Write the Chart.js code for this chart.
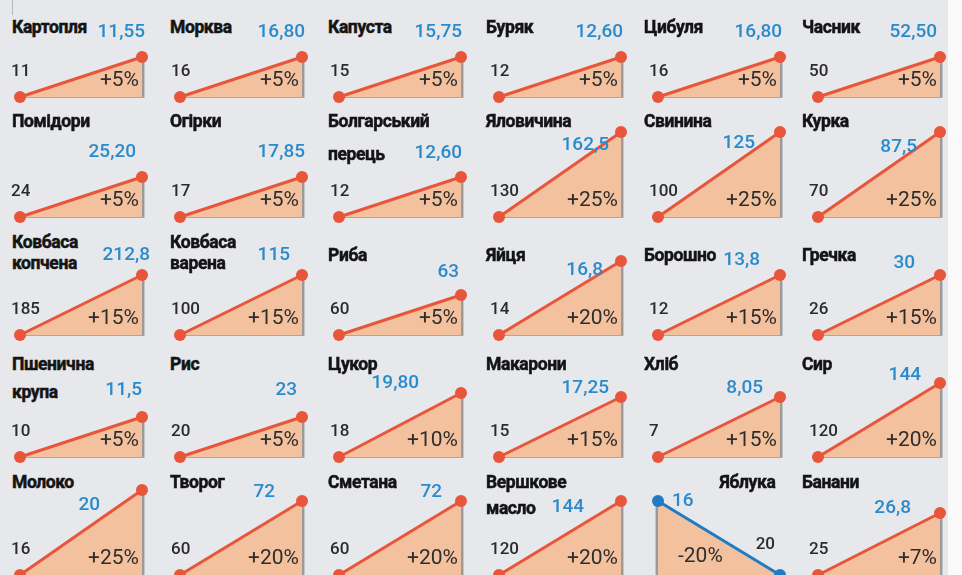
<!DOCTYPE html>
<html lang="uk">
<head>
  <meta charset="UTF-8" />
  <title>Ціни на продукти</title>
  <style>
    body {
      margin: 0;
      width: 962px;
      height: 575px;
      overflow: hidden;
      background: #fafafa;
      font-family: Roboto, 'Noto Sans', sans-serif;
    }
    #board {
      position: absolute;
      left: 0; top: 0;
      width: 948px; height: 575px;
      background: #e6e8eb;
      overflow: hidden;
    }
    #board canvas { position: absolute; }
    .name {
      position: absolute;
      font-weight: 700;
      font-size: 17.5px;
      color: #141414;
      white-space: pre;
      letter-spacing: -0.4px;
      -webkit-text-stroke: 0.5px #141414;
    }
    .tick {
      position: absolute;
      left: 12px; top: 0;
      width: 1px; height: 15px;
      background: #b5b7ba;
    }
  </style>
</head>
<body>
  <div id="board"><div class="tick"></div></div>

  <script src="https://cdn.jsdelivr.net/npm/chart.js"></script>
  <script>
    // products, old price -> new price, change as printed
    const products = ['Картопля', 'Морква', 'Капуста', 'Буряк', 'Цибуля', 'Часник',
      'Помідори', 'Огірки', 'Болгарський\nперець', 'Яловичина', 'Свинина', 'Курка',
      'Ковбаса\nкопчена', 'Ковбаса\nварена', 'Риба', 'Яйця', 'Борошно', 'Гречка',
      'Пшенична\nкрупа', 'Рис', 'Цукор', 'Макарони', 'Хліб', 'Сир',
      'Молоко', 'Творог', 'Сметана', 'Вершкове\nмасло', 'Яблука', 'Банани'];
    const oldPrices = [11, 16, 15, 12, 16, 50,
      24, 17, 12, 130, 100, 70,
      185, 100, 60, 14, 12, 26,
      10, 20, 18, 15, 7, 120,
      16, 60, 60, 120, 20, 25];
    const newPrices = [11.55, 16.80, 15.75, 12.60, 16.80, 52.50,
      25.20, 17.85, 12.60, 162.5, 125, 87.5,
      212.8, 115, 63, 16.8, 13.8, 30,
      11.5, 23, 19.80, 17.25, 8.05, 144,
      20, 72, 72, 144, 16, 26.8];
    const newLabels = ['11,55', '16,80', '15,75', '12,60', '16,80', '52,50',
      '25,20', '17,85', '12,60', '162,5', '125', '87,5',
      '212,8', '115', '63', '16,8', '13,8', '30',
      '11,5', '23', '19,80', '17,25', '8,05', '144',
      '20', '72', '72', '144', '16', '26,8'];
    const changes = [5, 5, 5, 5, 5, 5,
      5, 5, 5, 25, 25, 25,
      15, 15, 5, 20, 15, 15,
      5, 5, 10, 15, 15, 20,
      25, 20, 20, 20, -20, 7];

    // layout: where the blue price sits, [px left of the end point, px above the base]
    const labelNudge = [[-3, 65], [-3, 65], [-1, 65], [-2, 65], [-2, 65], [3, 65],
      [6, 65], [-3, 65], [-1, 64], [12, 72], [25, 74], [23, 70],
      [-8, 80], [12, 80], [2, 63], [18, 65], [20, 75], [25, 72],
      [0, 67], [5, 67], [42, 74], [12, 69], [17, 69], [19, 82],
      [42, 70], [27, 83], [19, 83], [37, 68], [0, 0], [29, 67]];

    const COLS = 6;
    const rowBottom = [97, 217, 335, 457, 575];
    const colLeft = c => 20 + 159.6 * c;
    const nameLeft = c => 12 + 158 * c;
    const W = 122, HP = 100;
    const PAD = { left: 14, right: 24, top: 10, bottom: 10 };
    // drawn height of the triangle for each size of change (the artwork is not linear)
    const risePx = { 5: 40, 7: 62, 10: 64, 15: 60, 20: 74, 25: 85 };

    const RED = '#e8553a', BLUE = '#1f7cc4', FILL = '#f3c19d';

    const edgePlugin = {
      id: 'edge',
      beforeDatasetsDraw(chart) {
        const { ctx, scales: { x, y } } = chart;
        const o = chart.options.plugins.priceLabels;
        const x0 = x.getPixelForValue(0), x1 = x.getPixelForValue(1);
        const y0 = y.getPixelForValue(o.oldP), y1 = y.getPixelForValue(o.newP);
        const dir = x1 > x0 ? 1 : -1;
        ctx.save();
        ctx.strokeStyle = '#9a9a9a';
        ctx.lineWidth = 2.5;
        ctx.beginPath();
        ctx.moveTo(x1 + dir * 1.2, y1);
        ctx.lineTo(x1 + dir * 1.2, y0 + 1);
        ctx.stroke();
        ctx.lineWidth = 1;
        ctx.strokeStyle = '#a8a8a8';
        ctx.beginPath();
        ctx.moveTo(x0, y0 + 0.5);
        ctx.lineTo(x1 + dir * 2, y0 + 0.5);
        ctx.stroke();
        ctx.restore();
      }
    };

    const labelsPlugin = {
      id: 'priceLabels',
      afterDatasetsDraw(chart, args, o) {
        const { ctx, scales: { x, y } } = chart;
        const x0 = x.getPixelForValue(0), x1 = x.getPixelForValue(1);
        const y0 = y.getPixelForValue(o.oldP), y1 = y.getPixelForValue(o.newP);
        const up = x1 > x0;
        ctx.save();
        ctx.textBaseline = 'middle';
        // new price
        ctx.font = '500 19px Roboto';
        ctx.fillStyle = '#2a8bcc';
        if (up) {
          ctx.textAlign = 'right';
          ctx.fillText(o.newText, x1 - o.nudge[0], y0 - o.nudge[1]);
        } else {
          ctx.textAlign = 'left';
          ctx.fillText(o.newText, x1 + 14, y1);
        }
        // old price
        ctx.font = '500 17px Roboto';
        ctx.fillStyle = '#2b2b2b';
        if (up) {
          ctx.textAlign = 'left';
          ctx.fillText(String(o.oldP), x0 - 9, y0 - 25);
        } else {
          ctx.textAlign = 'right';
          ctx.fillText(String(o.oldP), x0 - 5, y0 - 30);
        }
        // change
        ctx.font = '400 21px Roboto';
        ctx.fillStyle = '#2e2e2e';
        if (up) {
          ctx.textAlign = 'right';
          ctx.fillText(o.changeText, x1 - 3, y0 - 16);
        } else {
          ctx.textAlign = 'left';
          ctx.fillText(o.changeText, x1 + 20, y0 - 18);
        }
        ctx.restore();
      }
    };

    const board = document.getElementById('board');

    products.forEach((name, i) => {
      const r = Math.floor(i / COLS), c = i % COLS;
      const left = colLeft(c), B = rowBottom[r];
      const oldP = oldPrices[i], newP = newPrices[i];
      const down = newP < oldP;
      const span = Math.abs(newP - oldP) * HP / risePx[Math.abs(changes[i])];

      // name
      const div = document.createElement('div');
      div.className = 'name';
      div.textContent = name;
      const twoLines = name.includes('\n');
      let lh = 28, cy = B - 93;
      if (r === 0) cy = B - 70;
      if (r === 2) { lh = 21; cy = twoLines ? B - 93 : B - 80; }
      if (r === 1) { lh = 33; cy = B - 96; }
      if (r === 4) lh = 26;
      div.style.lineHeight = lh + 'px';
      div.style.top = (cy - lh / 2) + 'px';
      if (down) {
        div.style.left = (left + W - 5 - 150) + 'px';
        div.style.width = '150px';
        div.style.textAlign = 'right';
      } else {
        div.style.left = nameLeft(c) + 'px';
      }
      board.appendChild(div);

      const cv = document.createElement('canvas');
      cv.width = PAD.left + W + PAD.right;
      cv.height = PAD.top + HP + PAD.bottom;
      cv.style.left = (left - PAD.left) + 'px';
      cv.style.top = (B - HP - PAD.top) + 'px';
      board.appendChild(cv);

      const col = down ? BLUE : RED;
      new Chart(cv, {
        type: 'line',
        data: {
          datasets: [{
            data: [{ x: 0, y: oldP }, { x: 1, y: newP }],
            borderColor: col,
            borderWidth: 3,
            pointRadius: 6,
            pointBackgroundColor: col,
            pointBorderWidth: 0,
            backgroundColor: FILL,
            fill: { value: oldP },
            tension: 0,
            clip: false
          }]
        },
        options: {
          responsive: false,
          animation: false,
          events: [],
          layout: { padding: PAD },
          scales: {
            x: { type: 'linear', min: 0, max: 1, reverse: down, display: false },
            y: { min: down ? oldP - span : oldP, max: down ? oldP : oldP + span, reverse: down, display: false }
          },
          plugins: {
            legend: { display: false },
            tooltip: { enabled: false },
            priceLabels: {
              oldP: oldP,
              newP: newP,
              newText: newLabels[i],
              nudge: labelNudge[i],
              changeText: (changes[i] > 0 ? '+' : '') + changes[i] + '%'
            }
          }
        },
        plugins: [edgePlugin, labelsPlugin]
      });
    });
  </script>
</body>
</html>
